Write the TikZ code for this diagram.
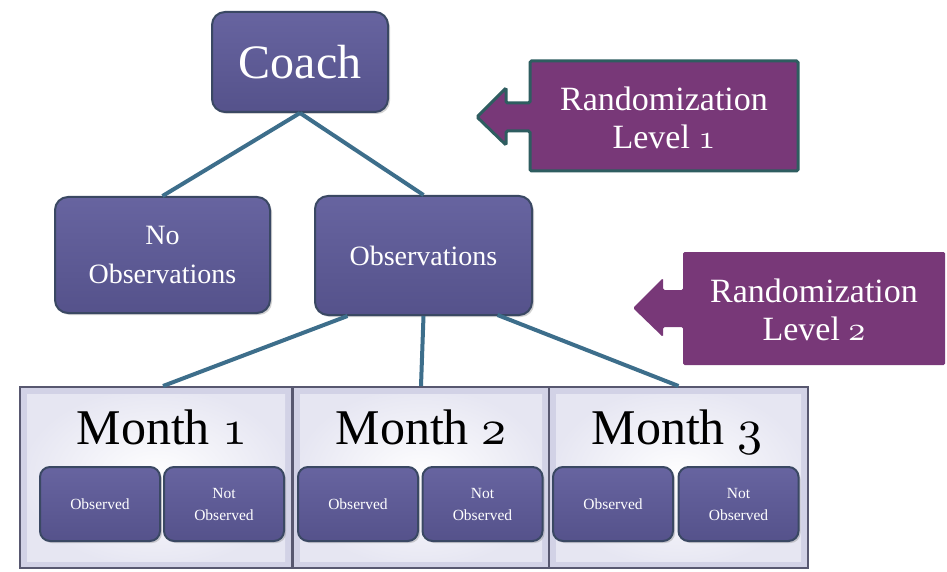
\documentclass[tikz,border=0pt]{standalone}
\usepackage{fontspec}
\usepackage{graphicx}
\setmainfont{Liberation Serif}
\usetikzlibrary{shadows,calc}
\newcommand{\osn}[2]{\scalebox{#2}{\fontsize{10}{12}\usefont{OML}{cmm}{m}{it}#1}}
\definecolor{nodetop}{HTML}{6764A0}
\definecolor{nodebot}{HTML}{55528B}
\definecolor{nodeedge}{HTML}{3A4863}
\definecolor{linkc}{HTML}{3D6E8B}
\definecolor{callfill}{HTML}{783878}
\definecolor{callborder}{HTML}{2E5D60}
\definecolor{monthedge}{HTML}{585870}
\definecolor{monthrim}{HTML}{D2D2E6}
\definecolor{monthout}{HTML}{E6E6F2}
\tikzset{
  pbox/.style={rounded corners=13pt, draw=nodeedge, line width=2pt,
    top color=nodetop, bottom color=nodebot, text=white, align=center,
    inner sep=0pt, drop shadow={opacity=0.35,shadow xshift=2pt,shadow yshift=-2pt}},
  smallbox/.style={pbox, rounded corners=10pt, minimum width=120pt, minimum height=74pt,
    font=\fontsize{15.5}{22}\selectfont},
  monthbox/.style={draw=monthedge, line width=2pt, fill=monthrim, inner sep=0pt,
    path picture={\fill[inner color=white, outer color=monthout]
      ([shift={(7pt,-7pt)}]path picture bounding box.north west) rectangle
      ([shift={(-7pt,7pt)}]path picture bounding box.south east);}},
  monthlabel/.style={font=\fontsize{50}{56}\selectfont, text=black, inner sep=0pt},
  link/.style={draw=linkc, line width=4pt},
  callout/.style={fill=callfill, rounded corners=1.5pt},
  calltext/.style={text=white, align=center, font=\fontsize{34}{38}\selectfont, inner sep=0pt}
}
\begin{document}
\begin{tikzpicture}[x=1pt,y=-1pt]
\fill[white] (0,0) rectangle (947,572);
\useasboundingbox (0,0) rectangle (947,572);

% top nodes
\node[pbox, minimum width=176pt, minimum height=100pt, font=\fontsize{48}{54}\selectfont] (coach) at (300,62) {Coach};
\node[pbox, minimum width=215pt, minimum height=116pt, font=\fontsize{28}{39}\selectfont] (noobs) at (162.5,255) {No\\Observations};
\node[pbox, minimum width=217pt, minimum height=119pt, font=\fontsize{28}{39}\selectfont] (obs) at (423.5,255.5) {Observations};

% month boxes
\node[monthbox, minimum width=272pt, minimum height=181pt] (m1) at (156,477.5) {};
\node[monthbox, minimum width=256pt, minimum height=181pt] (m2) at (421,477.5) {};
\node[monthbox, minimum width=259pt, minimum height=181pt] (m3) at (678.5,477.5) {};
\node[monthlabel, anchor=base] (m1t) at (162,444) {Month \osn{1}{5}};
\node[monthlabel, anchor=base] (m2t) at (421,444) {Month \osn{2}{5}};
\node[monthlabel, anchor=base] (m3t) at (677,444) {Month \osn{3}{5}};

\node[smallbox] (o1) at (100,504) {Observed};
\node[smallbox] (n1) at (224,504) {Not\\Observed};
\node[smallbox] (o2) at (358,504) {Observed};
\node[smallbox] (n2) at (482.5,504) {Not\\Observed};
\node[smallbox] (o3) at (613,504) {Observed};
\node[smallbox] (n3) at (738.5,504) {Not\\Observed};

% connectors
\draw[link] (coach.south) -- (noobs.north);
\draw[link] (coach.south) -- (obs.north);
\draw[link] ($(obs.south)+(-76,0)$) -- ($(m1.north)+(7,0)$);
\draw[link] (obs.south) -- (m2.north);
\draw[link] ($(obs.south)+(74,-1)$) -- (m3.north);

% callout 1
\draw[callout, draw=callborder, line width=3pt]
  (530,61) -- (798,61) -- (798,171) -- (530,171) -- (530,131) -- (506,131) -- (506,145)
  -- (477,117) -- (506,88) -- (506,103) -- (530,103) -- cycle;
\node[calltext] (r1) at (664,118) {Randomization\\Level \osn{1}{3.4}};

% callout 2
\fill[callout]
  (683,252) -- (945,252) -- (945,365) -- (683,365) -- (683,327) -- (663,327) -- (663,337)
  -- (633,308) -- (663,278) -- (663,290) -- (683,290) -- cycle;
\node[calltext] (r2) at (814,310) {Randomization\\Level \osn{2}{3.4}};
\end{tikzpicture}
\end{document}
